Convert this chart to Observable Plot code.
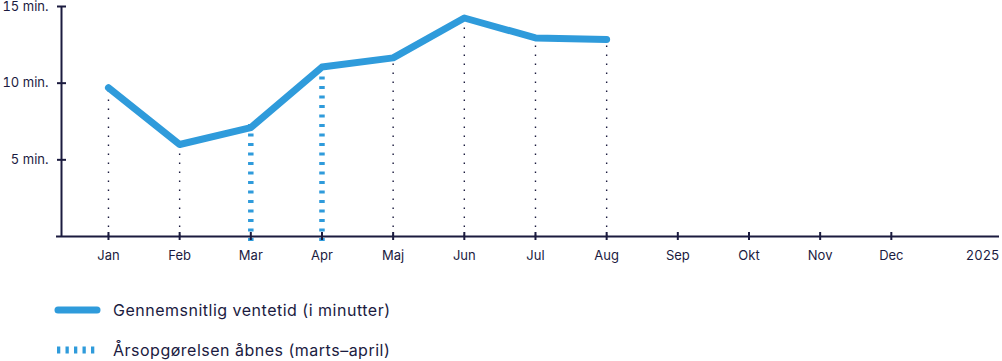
<!DOCTYPE html>
<html>
<head>
<meta charset="utf-8">
<script src="https://cdn.jsdelivr.net/npm/d3@7"></script>
<script src="https://cdn.jsdelivr.net/npm/@observablehq/plot@0.6"></script>
<style>
  html, body { margin: 0; padding: 0; background: #fff; }
  #wrap { position: relative; width: 1002px; height: 361px; font-family: Inter, "Noto Sans", sans-serif; color: #1b1b3f; }
  #chart svg { display: block; }
  .leg { position: absolute; left: 0; height: 20px; display: flex; align-items: center; font-size: 16px; letter-spacing: 0.5px; white-space: nowrap; }
  .leg svg { display: block; }
  .leg span { position: absolute; left: 113px; }
</style>
</head>
<body>
<div id="wrap">
  <div id="chart"></div>
  <div class="leg" style="top:300px">
    <svg width="110" height="20"><line x1="58" x2="97" y1="10" y2="10" stroke="#2f9bdb" stroke-width="7" stroke-linecap="round"/></svg>
    <span>Gennemsnitlig ventetid (i minutter)</span>
  </div>
  <div class="leg" style="top:340px">
    <svg width="110" height="20"><line x1="57" x2="96" y1="10" y2="10" stroke="#2f9bdb" stroke-width="7" stroke-dasharray="3.3,5.2"/></svg>
    <span>Årsopgørelsen åbnes (marts–april)</span>
  </div>
</div>
<script>
const months = ["Jan","Feb","Mar","Apr","Maj","Jun","Jul","Aug","Sep","Okt","Nov","Dec"];
const dataMonths = ["Jan","Feb","Mar","Apr","Maj","Jun","Jul","Aug"];
const waitMinutes = [9.7, 6.0, 7.1, 11.05, 11.65, 14.25, 12.95, 12.85];
const filingMonths = ["Mar","Apr"];
const yTicks = [5, 10, 15];
const yearLabel = "2025";

const blue = "#2f9bdb";
const ink = "#1b1b3f";
const xDomain = [-0.66, 12.52];

const data = dataMonths.map((m, k) => ({
  i: months.indexOf(m),
  month: m,
  value: waitMinutes[k],
  filing: filingMonths.includes(m)
}));

const chart = Plot.plot({
  width: 1002,
  height: 272,
  marginLeft: 61,
  marginRight: 3,
  marginTop: 6,
  marginBottom: 36,
  x: {type: "linear", domain: xDomain, label: null},
  y: {domain: [0, 15], label: null},
  style: {fontFamily: "Inter, 'Noto Sans', sans-serif", fontSize: "13px", color: ink, background: "#fff"},
  marks: [
    Plot.ruleX(data.filter(d => !d.filing), {x: "i", y1: 0, y2: "value", stroke: ink, strokeWidth: 1.4, strokeDasharray: "1.5,7.5"}),
    Plot.ruleX(data.filter(d => d.filing), {x: "i", y1: 0, y2: "value", stroke: blue, strokeWidth: 5.5, strokeDasharray: "3,6.5", insetTop: 5, insetBottom: 4}),
    Plot.ruleY([0], {x1: xDomain[0] - 0.07, x2: xDomain[1], stroke: ink, strokeWidth: 2}),
    Plot.ruleX([xDomain[0]], {y1: 0, y2: 15, stroke: ink, strokeWidth: 2}),
    Plot.axisY(yTicks, {label: null, tickSize: 9, dx: 5, tickPadding: 9, tickFormat: d => `${d} min.`, stroke: ink, strokeWidth: 2, fill: ink}),
    Plot.axisX(d3.range(12), {label: null, tickSize: 8, dy: -4, tickPadding: 10, tickFormat: i => months[i], stroke: ink, strokeWidth: 2, fill: ink}),
    Plot.axisX([xDomain[1]], {label: null, tickSize: 0, tickPadding: 14, tickFormat: () => yearLabel, textAnchor: "end", fill: ink}),
    Plot.lineY(data, {x: "i", y: "value", stroke: blue, strokeWidth: 7, strokeLinecap: "round", strokeLinejoin: "round"})
  ]
});
document.getElementById("chart").appendChild(chart);
</script>
</body>
</html>
